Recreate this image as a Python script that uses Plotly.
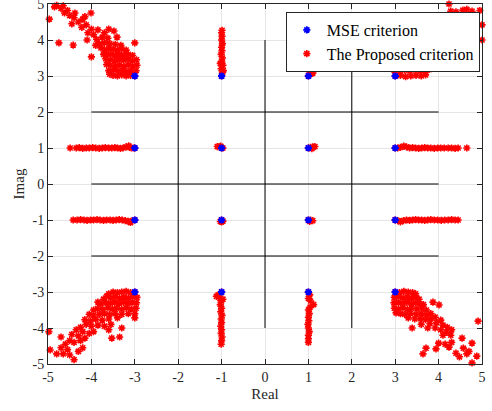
import plotly.graph_objects as go

# ---------------- data ----------------
constellation_re = [-3, -1, 1, 3, -3, -1, 1, 3, -3, -1, 1, 3, -3, -1, 1, 3]
constellation_im = [3, 3, 3, 3, 1, 1, 1, 1, -1, -1, -1, -1, -3, -3, -3, -3]

cluster_tl = [
    (-3.0, 3.0), (-3.1, 3.02), (-3.2, 3.0), (-3.3, 3.03), (-3.4, 3.0), (-3.5, 3.02), (-3.58, 3.05),
    (-2.97, 3.15), (-3.08, 3.15), (-3.18, 3.12), (-3.28, 3.16), (-3.38, 3.14), (-3.48, 3.17), (-3.6, 3.15),
    (-2.95, 3.3), (-3.05, 3.28), (-3.15, 3.3), (-3.25, 3.27), (-3.35, 3.31), (-3.45, 3.28), (-3.56, 3.3), (-3.65, 3.32),
    (-2.96, 3.45), (-3.06, 3.43), (-3.16, 3.46), (-3.26, 3.44), (-3.36, 3.47), (-3.46, 3.43), (-3.57, 3.45), (-3.67, 3.48),
    (-3.05, 3.57), (-3.15, 3.6), (-3.25, 3.58), (-3.35, 3.61), (-3.45, 3.58), (-3.55, 3.6), (-3.65, 3.62), (-3.72, 3.6),
    (-3.2, 3.72), (-3.3, 3.75), (-3.4, 3.72), (-3.5, 3.74), (-3.6, 3.76), (-3.7, 3.73), (-3.78, 3.78),
    (-3.32, 3.85), (-3.45, 3.88), (-3.58, 3.9), (-3.7, 3.92), (-3.82, 3.9),
    (-3.62, 4.05), (-3.75, 4.08), (-3.88, 4.02), (-3.95, 4.15), (-3.7, 4.2), (-3.85, 4.28), (-4.0, 4.3),
    (-4.08, 4.2), (-3.6, 4.3), (-4.12, 4.42), (-4.22, 4.35), (-4.3, 4.5), (-4.2, 4.58), (-4.4, 4.62),
    (-4.45, 4.45), (-4.38, 4.75), (-4.5, 4.68), (-4.55, 4.82), (-4.62, 4.75), (-4.7, 4.88), (-4.8, 4.96),
    (-4.85, 4.92), (-4.65, 4.95), (-4.1, 4.0), (-3.9, 3.85),
    (-4.97, 4.58), (-4.75, 3.92), (-4.42, 3.86), (-4.01, 4.75), (-4.15, 4.65), (-4.0, 3.53),
    (-3.0, 3.92), (-3.48, 4.25), (-3.41, 4.08),
]

cluster_tr = [
    (3.0, 3.0), (3.12, 3.02), (3.24, 2.98), (3.36, 3.0), (3.48, 3.02), (3.6, 3.0), (3.7, 3.03),
    (2.98, 3.15), (3.1, 3.13), (3.22, 3.16), (3.34, 3.14), (3.46, 3.17), (3.58, 3.15), (3.7, 3.14), (3.78, 3.18),
    (2.97, 3.3), (3.09, 3.28), (3.21, 3.31), (3.33, 3.29), (3.45, 3.32), (3.57, 3.3), (3.69, 3.31), (3.8, 3.3),
    (2.98, 3.45), (3.1, 3.47), (3.22, 3.44), (3.34, 3.48), (3.46, 3.45), (3.58, 3.47), (3.7, 3.45), (3.82, 3.48),
    (3.2, 3.6), (3.5, 3.65), (3.8, 3.7), (3.95, 3.9), (4.1, 4.1), (4.25, 4.3), (4.4, 4.5),
    (4.08, 3.44), (4.24, 5.0), (4.28, 4.8), (4.56, 4.83), (4.77, 4.8), (4.95, 4.82),
    (5.0, 4.42), (5.0, 4.0), (4.4, 4.78), (4.65, 4.85),
]

cluster_bl = [
    (-3.0, -3.0), (-3.1, -3.02), (-3.2, -2.98), (-3.3, -3.0), (-3.4, -3.02), (-3.5, -3.0), (-3.6, -3.05),
    (-2.95, -3.15), (-3.05, -3.13), (-3.15, -3.16), (-3.25, -3.14), (-3.35, -3.17), (-3.45, -3.13), (-3.55, -3.16),
    (-3.65, -3.12), (-3.72, -3.2),
    (-2.96, -3.3), (-3.06, -3.28), (-3.16, -3.31), (-3.26, -3.29), (-3.36, -3.32), (-3.46, -3.28), (-3.56, -3.31),
    (-3.66, -3.3), (-3.78, -3.33), (-3.85, -3.28),
    (-2.97, -3.45), (-3.08, -3.47), (-3.2, -3.44), (-3.3, -3.48), (-3.42, -3.45), (-3.52, -3.47), (-3.62, -3.44),
    (-3.74, -3.48), (-3.86, -3.46), (-3.95, -3.5),
    (-3.0, -3.6), (-3.15, -3.6), (-3.3, -3.62), (-3.45, -3.6), (-3.58, -3.63), (-3.7, -3.6), (-3.82, -3.62),
    (-3.95, -3.64), (-4.05, -3.62),
    (-3.6, -3.75), (-3.75, -3.78), (-3.9, -3.76), (-4.02, -3.8), (-4.15, -3.77), (-3.4, -3.72),
    (-3.85, -3.92), (-4.0, -3.95), (-4.12, -3.9), (-4.25, -3.98), (-4.2, -4.1), (-4.35, -4.05), (-4.05, -4.15),
    (-4.3, -4.22), (-4.45, -4.18), (-4.5, -4.35), (-4.4, -4.4), (-4.6, -4.45), (-4.25, -4.35), (-4.15, -4.28),
    (-4.55, -4.6), (-4.7, -4.55), (-4.65, -4.72), (-4.5, -4.75), (-4.4, -4.88), (-4.3, -4.65), (-4.2, -4.55),
    (-4.8, -4.72), (-3.95, -4.1), (-3.7, -3.95), (-3.6, -4.05), (-3.55, -3.9),
    (-4.98, -4.1), (-4.95, -4.61), (-3.35, -4.25), (-3.0, -3.72), (-4.7, -4.25), (-3.3, -4.0), (-3.53, -4.28),
]

cluster_br = [
    (3.0, -3.0), (3.1, -3.02), (3.2, -2.98), (3.3, -3.0), (3.4, -3.02), (3.47, -3.05),
    (2.98, -3.15), (3.08, -3.13), (3.18, -3.16), (3.28, -3.14), (3.38, -3.17), (3.48, -3.15), (3.55, -3.2),
    (2.97, -3.3), (3.07, -3.28), (3.17, -3.31), (3.27, -3.29), (3.37, -3.32), (3.47, -3.3), (3.57, -3.33), (3.65, -3.35),
    (2.98, -3.45), (3.08, -3.47), (3.18, -3.44), (3.28, -3.48), (3.38, -3.45), (3.5, -3.47), (3.62, -3.45), (3.72, -3.5),
    (3.02, -3.58), (3.12, -3.6), (3.22, -3.62), (3.35, -3.6), (3.48, -3.62), (3.6, -3.6), (3.72, -3.63), (3.82, -3.6),
    (3.3, -3.72), (3.45, -3.75), (3.58, -3.74), (3.7, -3.77), (3.82, -3.74), (3.92, -3.7),
    (3.8, -3.88), (3.95, -3.85), (4.05, -3.78), (4.1, -3.92), (3.92, -4.0), (4.05, -4.05), (4.2, -3.98),
    (4.18, -4.12), (4.3, -4.05), (4.28, -4.2), (3.75, -4.0), (4.1, -4.2), (3.6, -3.9),
    (4.91, -3.81), (4.01, -3.36), (3.39, -4.0), (3.64, -4.72), (3.71, -4.56), (3.94, -4.58), (4.0, -4.42),
    (4.54, -4.28), (4.77, -4.97), (4.88, -4.78), (4.57, -4.56), (4.4, -4.7), (4.77, -4.42), (4.24, -4.53),
    (3.87, -3.28), (4.65, -4.72), (4.48, -4.8), (4.15, -4.45), (4.7, -4.65), (4.3, -4.4),
]

column_top_left = [
    (-1.0, 3.0), (-0.98, 3.1), (-1.01, 3.2), (-0.97, 3.3), (-1.0, 3.4), (-0.98, 3.5), (-1.01, 3.6),
    (-0.99, 3.7), (-1.0, 3.8), (-0.98, 3.9), (-1.0, 4.0), (-0.99, 4.1), (-1.0, 4.2), (-0.99, 4.27),
    (-0.96, 3.15), (-1.03, 3.35),
]
column_top_right = [
    (1.0, 3.0), (1.05, 3.05), (1.1, 3.08), (1.02, 3.15), (0.99, 3.25), (1.04, 3.35), (1.0, 3.45),
    (1.1, 3.12), (1.02, 3.6), (1.0, 3.8),
]
column_bottom_left = [
    (-1.0, -3.0), (-1.08, -3.08), (-1.12, -3.12), (-1.04, -3.18), (-1.0, -3.25), (-1.03, -3.35),
    (-1.0, -3.45), (-1.02, -3.55), (-0.99, -3.65), (-1.01, -3.75), (-1.0, -3.85), (-1.02, -3.95),
    (-1.0, -4.05), (-1.01, -4.15), (-0.99, -4.25), (-1.0, -4.35), (-1.01, -4.45), (-0.97, -3.2),
]
column_bottom_right = [
    (1.0, -3.0), (1.03, -3.08), (1.0, -3.18), (1.05, -3.25), (1.12, -3.35), (1.04, -3.42), (1.0, -3.5),
    (1.02, -3.6), (1.0, -3.7), (1.01, -3.8), (0.99, -3.9), (1.0, -4.0), (1.02, -4.1), (1.0, -4.2),
    (1.0, -4.3), (1.0, -4.4),
]
inner_points = [
    (-1.0, 1.0), (-1.05, 1.03), (-1.1, 1.04), (-1.02, 1.05), (-0.97, 1.0),
    (1.0, 1.0), (1.05, 1.02), (1.1, 1.03), (1.15, 1.04), (1.08, 0.98),
    (-1.0, -1.0), (-1.0, -1.05), (-0.97, -1.03), (-1.03, -1.04),
    (1.0, -1.0), (1.05, -1.0), (1.1, -1.02), (1.03, -1.04),
]
row_left_up = [
    (-4.49, 1.0), (-4.35, 1.0), (-4.28, 1.01), (-4.2, 0.99), (-4.12, 1.0), (-4.05, 1.0), (-3.97, 1.01),
    (-3.9, 1.0), (-3.82, 0.99), (-3.75, 1.0), (-3.68, 1.01), (-3.6, 1.0), (-3.53, 1.0), (-3.46, 1.01),
    (-3.4, 1.0), (-3.33, 0.99), (-3.27, 1.0), (-3.2, 1.03), (-3.14, 1.06), (-3.12, 1.02), (-3.08, 1.0),
    (-3.03, 1.0), (-3.0, 1.0),
]
row_right_up = [
    (3.0, 1.0), (3.06, 1.0), (3.12, 1.02), (3.2, 1.05), (3.26, 1.03), (3.33, 1.0), (3.4, 1.01),
    (3.47, 1.0), (3.54, 0.99), (3.61, 1.0), (3.68, 1.01), (3.75, 1.0), (3.82, 1.0), (3.9, 0.99),
    (3.98, 1.0), (4.05, 1.0), (4.13, 1.0), (4.22, 1.0), (4.3, 1.0), (4.38, 0.99), (4.45, 1.0), (4.65, 1.0),
]
row_left_down = [
    (-4.42, -1.0), (-4.33, -1.0), (-4.25, -0.99), (-4.17, -1.0), (-4.1, -1.01), (-4.02, -1.0), (-3.95, -1.0),
    (-3.87, -0.99), (-3.8, -1.0), (-3.72, -1.01), (-3.65, -1.0), (-3.57, -1.0), (-3.5, -1.01), (-3.43, -1.0),
    (-3.36, -0.99), (-3.29, -1.0), (-3.22, -1.02), (-3.15, -1.04), (-3.1, -1.07), (-3.06, -1.02), (-3.0, -1.0),
]
row_right_down = [
    (3.0, -1.0), (3.06, -1.02), (3.12, -1.05), (3.19, -1.02), (3.26, -1.0), (3.33, -1.01), (3.4, -1.0),
    (3.47, -0.99), (3.54, -1.0), (3.61, -1.0), (3.68, -1.01), (3.75, -1.0), (3.82, -0.99), (3.9, -1.0),
    (3.98, -1.0), (4.06, -1.01), (4.14, -1.0), (4.22, -1.0), (4.3, -0.99), (4.38, -1.0), (4.45, -1.0),
]

decision_thresholds = [-2, 0, 2]
decision_extent = [-4, 4]

tick_values = [-5, -4, -3, -2, -1, 0, 1, 2, 3, 4, 5]
tick_labels = ["-5", "-4", "-3", "-2", "-1", "0", "1", "2", "3", "4", "5"]

series_mse = "MSE criterion"
series_proposed = "The Proposed criterion"

# ---------------- figure ----------------
proposed = (cluster_tl + cluster_tr + cluster_bl + cluster_br + column_top_left + column_top_right
            + column_bottom_left + column_bottom_right + inner_points + row_left_up + row_right_up
            + row_left_down + row_right_down)

fig = go.Figure()

# decision boundaries
for t in decision_thresholds:
    fig.add_trace(go.Scatter(x=[t, t], y=decision_extent, mode="lines",
                             line=dict(color="black", width=1), showlegend=False, hoverinfo="skip"))
    fig.add_trace(go.Scatter(x=decision_extent, y=[t, t], mode="lines",
                             line=dict(color="black", width=1), showlegend=False, hoverinfo="skip"))

fig.add_trace(go.Scatter(
    x=[p[0] for p in proposed], y=[p[1] for p in proposed], mode="markers", name=series_proposed,
    legendrank=2, cliponaxis=False,
    marker=dict(symbol="asterisk-open", size=6, color="#ff0000", line=dict(color="#ff0000", width=1.6)),
))
fig.add_trace(go.Scatter(
    x=constellation_re, y=constellation_im, mode="markers", name=series_mse,
    legendrank=1, cliponaxis=False,
    marker=dict(symbol="asterisk-open", size=6, color="#0000ff", line=dict(color="#0000ff", width=1.8)),
))

axis_common = dict(
    range=[-5, 5], tickvals=tick_values, ticktext=tick_labels, showgrid=True,
    gridcolor="#e6e6e6", gridwidth=1, zeroline=False, showline=True, linecolor="#262626",
    linewidth=1, mirror="ticks", ticks="inside", ticklen=5, tickcolor="#262626",
    tickfont=dict(family="Liberation Serif", size=14, color="#262626"), automargin=False,
    ticklabeloverflow="allow",
)

fig.update_layout(
    width=492, height=411,
    margin=dict(l=48, r=10, t=4, b=47),
    paper_bgcolor="white", plot_bgcolor="white",
    font=dict(family="Liberation Serif", color="#262626"),
    xaxis=dict(axis_common, title=dict(text="Real", font=dict(size=15), standoff=4)),
    yaxis=dict(axis_common, title=dict(text="Imag", font=dict(size=15), standoff=4)),
    legend=dict(x=0.995, y=0.978, xanchor="right", yanchor="top", bgcolor="white",
                bordercolor="#262626", borderwidth=1, font=dict(size=16, color="black"),
                tracegroupgap=0),
    showlegend=True,
)

fig.write_html("out.html", config={"displayModeBar": False},
               post_script="document.body.style.margin='0px';")
